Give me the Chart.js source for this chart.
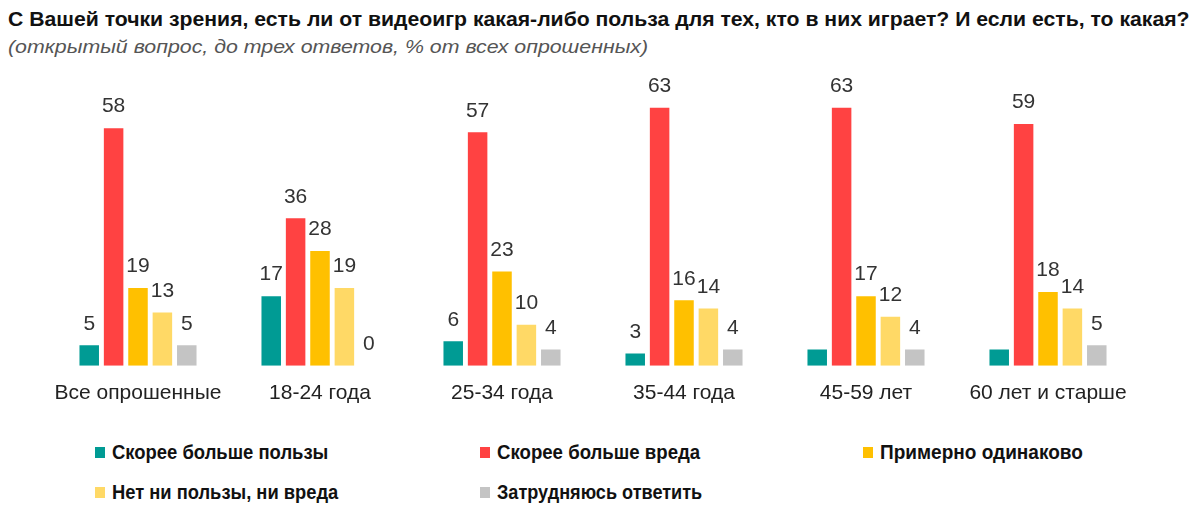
<!DOCTYPE html>
<html>
<head>
<meta charset="utf-8">
<script src="https://cdn.jsdelivr.net/npm/chart.js@4"></script>
<style>
    body { margin: 0; background: #fff; width: 1197px; height: 516px; overflow: hidden; position: relative; }
    .title { position: absolute; left: 8px; top: 7px; font: bold 21px "Liberation Sans", Arial, sans-serif; color: #111; white-space: nowrap; transform-origin: left top; }
    .subtitle { position: absolute; left: 8px; top: 36px; font: italic 19px "Liberation Sans", Arial, sans-serif; color: #555; white-space: nowrap; transform-origin: left top; }
    .chart-box { position: absolute; left: 0; top: 70px; width: 1197px; height: 343px; }
    .legend-item { position: absolute; font: bold 21px "Liberation Sans", Arial, sans-serif; color: #111; white-space: nowrap; }
    .legend-item .sw { position: absolute; left: 0; top: 7px; width: 10px; height: 11px; }
    .legend-item .txt { position: absolute; left: 17px; top: 0; transform-origin: left top; }
</style>
</head>
<body>
<div class="title" id="title">С Вашей точки зрения, есть ли от видеоигр какая-либо польза для тех, кто в них играет? И если есть, то какая?</div>
<div class="subtitle" id="subtitle">(открытый вопрос, до трех ответов, % от всех опрошенных)</div>
<div class="chart-box"><canvas id="gamesChart"></canvas></div>
<div id="legend"></div>
<script>
const categories = ['Все опрошенные', '18-24 года', '25-34 года', '35-44 года', '45-59 лет', '60 лет и старше'];
const seriesNames = ['Скорее больше пользы', 'Скорее больше вреда', 'Примерно одинаково', 'Нет ни пользы, ни вреда', 'Затрудняюсь ответить'];
const seriesColors = ['#009B94', '#FF4242', '#FFC000', '#FFD966', '#C4C4C4'];

const morePositive = [5, 17, 6, 3, 4, 4];
const moreHarm = [58, 36, 57, 63, 63, 59];
const aboutEqual = [19, 28, 23, 16, 17, 18];
const neither = [13, 19, 10, 14, 12, 14];
const hardToSay = [5, 0, 4, 4, 4, 5];

// in the source the first bar of the two oldest groups has no number
const hideLabel = [[4, 0], [5, 0]];

const seriesValues = [morePositive, moreHarm, aboutEqual, neither, hardToSay];

// squeeze a text block to the width it has in the source (it uses a narrow face)
function fitWidth(el, target) {
    const w = el.scrollWidth;
    el.style.transform = 'scaleX(' + (target / w) + ')';
}
fitWidth(document.getElementById('title'), 1182);
fitWidth(document.getElementById('subtitle'), 640);

const valueLabels = {
    id: 'valueLabels',
    afterDatasetsDraw(chart) {
        const ctx = chart.ctx;
        ctx.save();
        ctx.font = '21px "Liberation Sans", Arial, sans-serif';
        ctx.fillStyle = '#333';
        ctx.textAlign = 'center';
        ctx.textBaseline = 'bottom';
        chart.data.datasets.forEach((ds, di) => {
            const meta = chart.getDatasetMeta(di);
            meta.data.forEach((bar, i) => {
                if (hideLabel.some(h => h[0] === i && h[1] === di)) return;
                ctx.fillText(ds.data[i], bar.x, bar.y - 11);
            });
        });
        ctx.restore();
    }
};

const ctx = document.getElementById('gamesChart').getContext('2d');
new Chart(ctx, {
    type: 'bar',
    data: {
        labels: categories,
        datasets: seriesNames.map((name, i) => ({
            label: name,
            data: seriesValues[i],
            backgroundColor: seriesColors[i],
            categoryPercentage: 0.67,
            barPercentage: 0.8
        }))
    },
    options: {
        responsive: true,
        maintainAspectRatio: false,
        animation: false,
        layout: { padding: { left: 47, right: 58, top: 9, bottom: 0 } },
        plugins: {
            legend: { display: false },
            tooltip: { enabled: false }
        },
        scales: {
            x: {
                grid: { display: false },
                border: { display: false },
                ticks: {
                    color: '#222',
                    padding: 7,
                    font: { family: '"Liberation Sans", Arial, sans-serif', size: 21 }
                }
            },
            y: { display: false, min: 0, max: 70 }
        }
    },
    plugins: [valueLabels]
});

// legend in three columns like the source
const legendPos = [[95, 440], [480, 440], [863, 440], [95, 480], [480, 480]];
const legendWidth = [216, 203, 203, 226, 205];
const legend = document.getElementById('legend');
seriesNames.forEach((name, i) => {
    const item = document.createElement('div');
    item.className = 'legend-item';
    item.style.left = legendPos[i][0] + 'px';
    item.style.top = legendPos[i][1] + 'px';
    item.innerHTML = '<span class="sw" style="background:' + seriesColors[i] + '"></span><span class="txt">' + name + '</span>';
    legend.appendChild(item);
    fitWidth(item.querySelector('.txt'), legendWidth[i]);
});
</script>
</body>
</html>
